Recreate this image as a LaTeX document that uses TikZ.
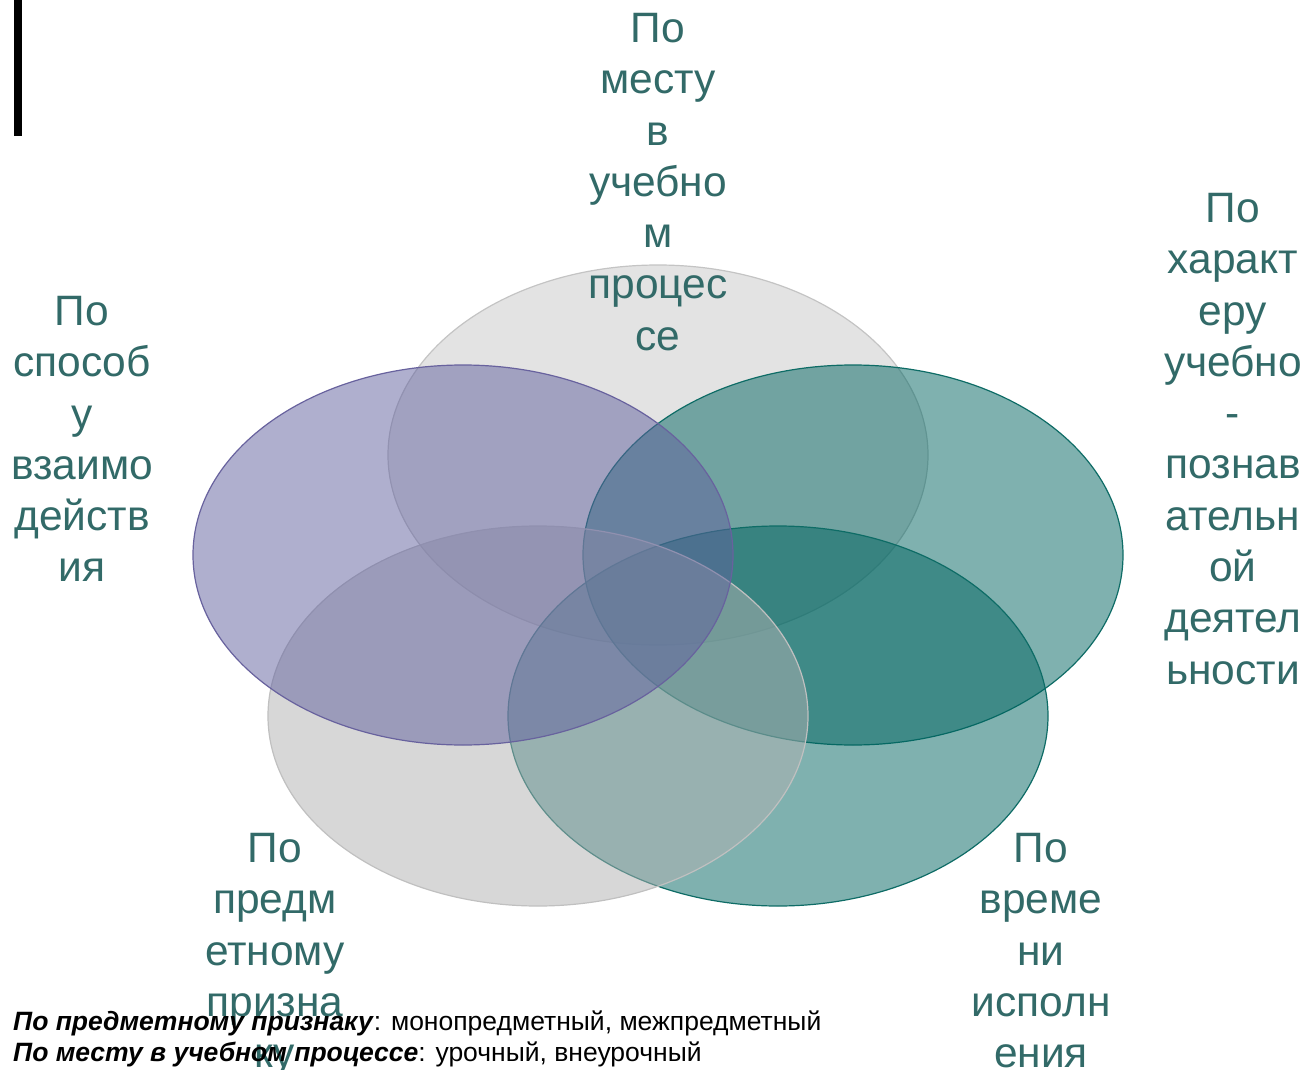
\documentclass[tikz,border=0pt]{standalone}
\usepackage{fontspec}
\setmainfont{Liberation Sans}
\definecolor{labelc}{RGB}{50,106,104}
\definecolor{topgray}{RGB}{201,201,201}
\definecolor{topgraydraw}{RGB}{196,196,196}
\definecolor{purplef}{RGB}{97,97,159}
\definecolor{purpled}{RGB}{104,98,158}
\definecolor{tealf}{RGB}{0,101,97}
\definecolor{teald}{RGB}{14,108,102}
\definecolor{botgray}{RGB}{177,177,177}
\definecolor{botgraydraw}{RGB}{192,192,192}
\tikzset{
  venn/.style={line width=1.2pt, fill opacity=0.5},
  lbl/.style={text=labelc, align=center, inner sep=0pt, anchor=north,
    font=\fontsize{42.5}{51.3}\selectfont},
  note/.style={anchor=base west, inner sep=0pt, font=\fontsize{26.5}{31}\selectfont}
}
\begin{document}
\begin{tikzpicture}[x=1pt,y=-1pt]
\useasboundingbox (0,0) rectangle (1307,1070);
\fill[white] (0,0) rectangle (1307,1070);
% black bar
\fill[black] (14,0) rectangle (22,136);
% ellipses
\draw[venn, fill=topgray, draw=topgraydraw] (658,455) ellipse [x radius=270, y radius=190];
\draw[venn, fill=tealf, draw=teald] (853,555) ellipse [x radius=270, y radius=190];
\draw[venn, fill=tealf, draw=teald] (778,716) ellipse [x radius=270, y radius=190];
\draw[venn, fill=botgray, draw=botgraydraw] (538,716) ellipse [x radius=270, y radius=190];
\draw[venn, fill=purplef, draw=purpled] (463,555) ellipse [x radius=270, y radius=190];
% labels
\node[lbl] (ltop) at (658,13) {По\\месту\\в\\учебно\\м\\процес\\се};
\node[lbl] (lleft) at (82,296) {По\\способ\\у\\взаимо\\действ\\ия};
\node[lbl] (lright) at (1233,193) {По\\характ\\еру\\учебно\\-\\познав\\ательн\\ой\\деятел\\ьности};
\node[lbl] (lbl) at (275,833) {По\\предм\\етному\\призна\\ку};
\node[lbl] (lbr) at (1041,833) {По\\време\\ни\\исполн\\ения};
% notes
\node[note] (n1) at (13,1030) {\textbf{\textit{По предметному признаку}}: монопредметный, межпредметный};
\node[note] (n2) at (13,1061) {\textbf{\textit{По месту в учебном процессе}}: урочный, внеурочный};
\end{tikzpicture}
\end{document}
